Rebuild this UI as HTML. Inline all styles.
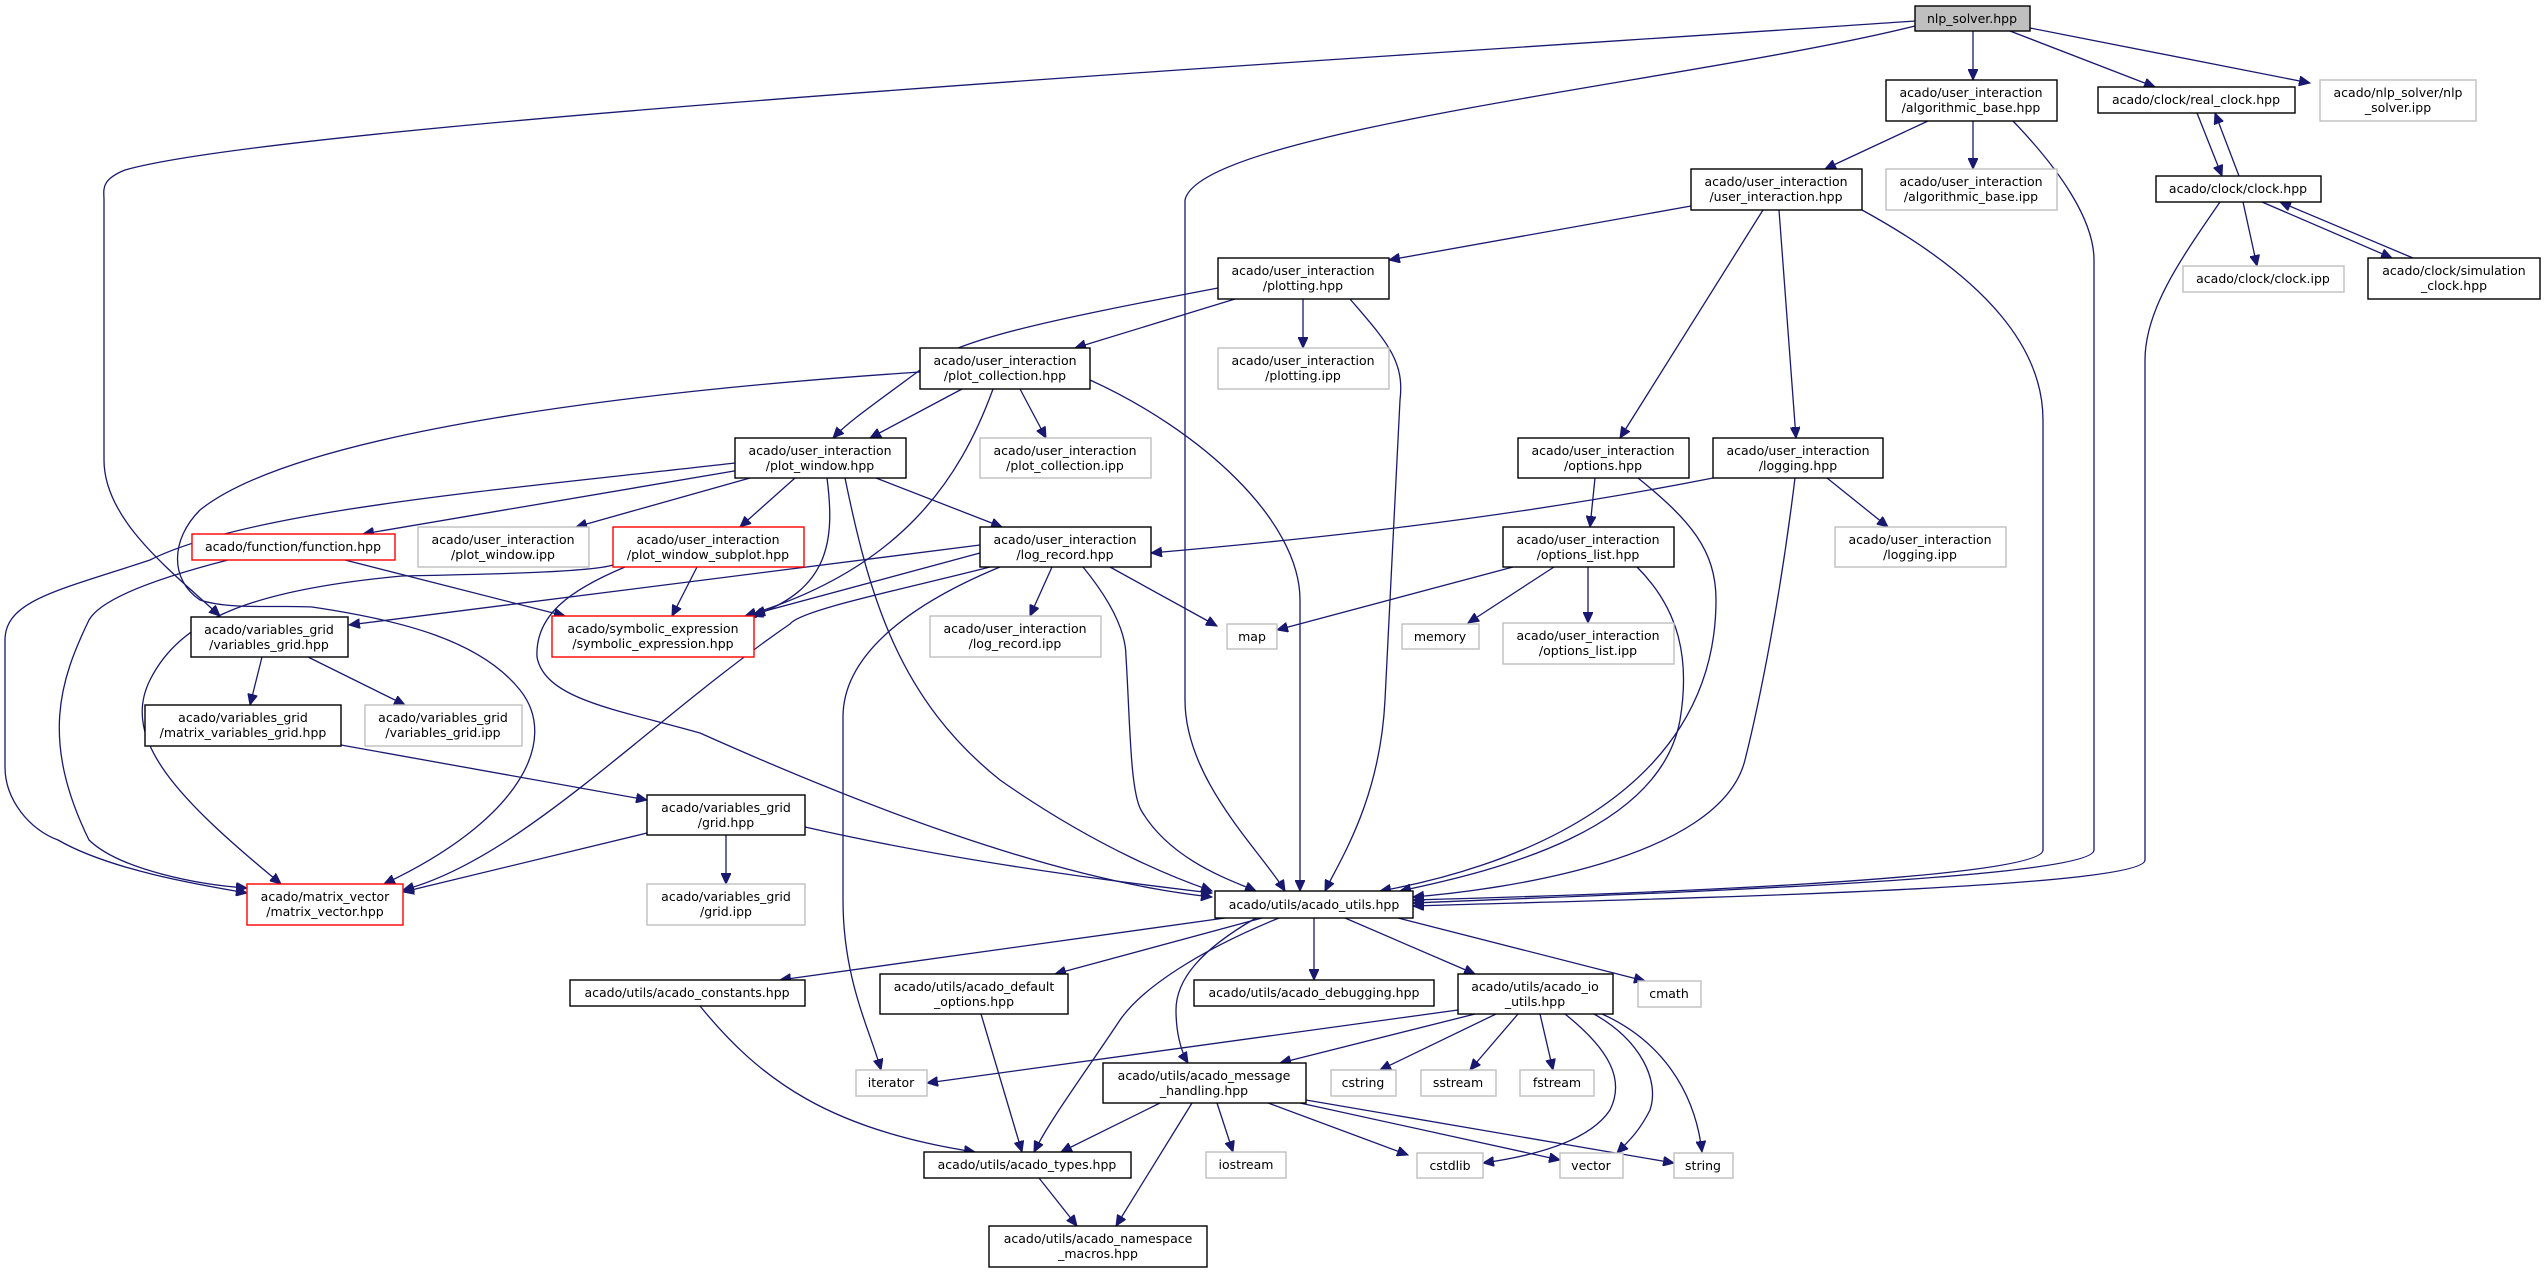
<!DOCTYPE html>
<html><head><meta charset="utf-8"><style>
html,body{margin:0;padding:0;background:#fff}
svg{display:block}
text{font-family:"DejaVu Sans","Liberation Sans",sans-serif;font-size:12.5px;fill:#000;text-anchor:middle}
.e{fill:none;stroke:#191970;stroke-width:1.3}
.b{fill:#fff;stroke:#000;stroke-width:1.4}
.g{fill:#fff;stroke:#bfbfbf;stroke-width:1.4}
.r{fill:#fff;stroke:#ff0000;stroke-width:1.4}
</style></head><body>
<svg width="2546" height="1273" viewBox="0 0 2546 1273" xmlns="http://www.w3.org/2000/svg">
<defs><marker id="a" markerUnits="userSpaceOnUse" markerWidth="12" markerHeight="10" refX="11" refY="5" orient="auto"><path d="M0,0 L11,5 L0,10 z" fill="#191970" stroke="#191970"/></marker></defs>
<g class="e" marker-end="url(#a)">
<!-- nlp_solver -->
<path d="M1915,21 C1500,50 300,120 125,170 C100,180 104,190 104,200 L104,460 C104,520 170,570 220,616"/>
<path d="M1915,26 C1700,80 1200,130 1185,200 L1185,700 C1185,780 1260,850 1285,891"/>
<path d="M1973,31 L1973,80"/>
<path d="M2010,31 L2155,87"/>
<path d="M2030,28 L2310,83"/>
<!-- algorithmic_base -->
<path d="M1928,121 L1825,169"/>
<path d="M1973,121 L1973,169"/>
<path d="M2013,121 C2060,170 2094,220 2094,260 L2094,850 C2094,880 1600,895 1413,903"/>
<!-- clocks -->
<path d="M2197,113 L2222,176"/>
<path d="M2239,176 L2215,113"/>
<path d="M2243,202 L2257,266"/>
<path d="M2262,202 L2392,258"/>
<path d="M2413,258 L2280,202"/>
<path d="M2220,202 C2180,260 2145,310 2145,360 L2145,860 C2145,890 1600,900 1413,906"/>
<!-- user_interaction -->
<path d="M1691,206 L1389,260"/>
<path d="M1763,210 L1620,438"/>
<path d="M1779,210 L1796,438"/>
<path d="M1862,210 C1990,280 2043,350 2043,420 L2043,850 C2043,880 1600,895 1413,900"/>
<!-- plotting -->
<path d="M1235,299 L1075,348"/>
<path d="M1303,299 L1303,348"/>
<path d="M1218,288 C1050,320 950,340 920,370 C880,400 850,420 833,438"/>
<path d="M1350,299 C1385,340 1405,360 1400,400 L1385,700 C1380,800 1340,860 1325,891"/>
<!-- plot_collection -->
<path d="M962,389 L870,438"/>
<path d="M1020,389 L1046,438"/>
<path d="M993,389 C960,480 900,570 745,616"/>
<path d="M920,372 C650,390 300,430 200,510 C170,540 170,580 200,600 C230,610 280,605 312,607 C400,620 480,640 520,690 C560,740 520,820 384,884"/>
<path d="M1090,380 C1200,430 1300,520 1300,600 L1300,891"/>
<!-- plot_window -->
<path d="M735,463 C500,490 250,510 150,560 C60,590 5,600 5,640 L5,767 C5,800 30,830 58,840 C110,870 200,885 247,893"/>
<path d="M740,470 L363,534"/>
<path d="M750,478 L576,527"/>
<path d="M795,478 L740,527"/>
<path d="M827,478 C835,540 830,590 752,616"/>
<path d="M845,478 C870,600 900,700 1000,780 C1100,850 1180,880 1212,891"/>
<path d="M876,478 L1002,527"/>
<!-- function -->
<path d="M345,560 L565,616"/>
<path d="M228,560 C150,580 100,600 89,620 C60,680 40,740 89,840 C120,870 200,885 247,888"/>
<!-- subplot -->
<path d="M697,567 L672,616"/>
<path d="M613,565 C590,572 500,574 402,576 C250,590 180,620 150,680 C120,740 179,800 281,884"/>
<path d="M625,567 C570,590 535,615 537,657 C545,700 620,710 700,733 C850,800 1050,880 1212,897"/>
<!-- log_record -->
<path d="M980,545 L349,625"/>
<path d="M980,553 L754,614"/>
<path d="M990,567 C900,590 800,610 790,624 C650,720 520,860 403,890"/>
<path d="M1052,567 L1030,616"/>
<path d="M1110,567 L1217,626"/>
<path d="M1000,567 C920,600 843,650 843,717 L843,900 C843,980 870,1030 881,1070"/>
<path d="M1083,567 C1110,600 1126,630 1126,657 C1130,720 1130,790 1141,810 C1170,860 1230,880 1256,891"/>
<!-- options -->
<path d="M1595,478 L1590,527"/>
<path d="M1638,478 C1690,520 1716,550 1716,600 C1716,800 1500,870 1380,891"/>
<!-- logging -->
<path d="M1713,478 C1500,520 1300,540 1151,553"/>
<path d="M1827,478 L1888,527"/>
<path d="M1795,478 C1780,600 1760,700 1745,760 C1720,860 1500,890 1413,897"/>
<!-- options_list -->
<path d="M1513,567 L1277,630"/>
<path d="M1554,567 L1468,623"/>
<path d="M1588,567 L1588,623"/>
<path d="M1637,567 C1680,610 1690,660 1680,720 C1660,830 1500,870 1400,891"/>
<!-- variables_grid -->
<path d="M262,657 L250,705"/>
<path d="M308,657 L405,705"/>
<path d="M341,745 L647,800"/>
<!-- grid -->
<path d="M647,833 L403,892"/>
<path d="M726,835 L726,884"/>
<path d="M805,827 C950,860 1100,880 1212,893"/>
<!-- acado_utils -->
<path d="M1225,918 L780,980"/>
<path d="M1262,918 L1055,974"/>
<path d="M1314,918 L1314,980"/>
<path d="M1345,918 L1475,974"/>
<path d="M1398,918 L1645,981"/>
<path d="M1256,918 C1200,950 1176,980 1176,1010 C1176,1030 1180,1050 1188,1063"/>
<path d="M1279,918 C1200,950 1142,988 1120,1020 C1080,1080 1050,1120 1034,1152"/>
<path d="M700,1006 C760,1080 830,1130 975,1152"/>
<path d="M981,1014 L1022,1152"/>
<!-- io_utils -->
<path d="M1458,1010 L927,1083"/>
<path d="M1475,1014 L1280,1063"/>
<path d="M1496,1014 L1380,1070"/>
<path d="M1518,1014 L1470,1070"/>
<path d="M1540,1014 L1553,1070"/>
<path d="M1565,1014 C1610,1050 1625,1080 1610,1110 C1590,1140 1540,1155 1483,1163"/>
<path d="M1594,1014 C1640,1040 1660,1080 1650,1110 C1640,1130 1630,1140 1617,1153"/>
<path d="M1602,1014 C1660,1040 1695,1090 1702,1152"/>
<!-- message_handling -->
<path d="M1160,1103 L1061,1152"/>
<path d="M1192,1103 L1116,1226"/>
<path d="M1217,1103 L1233,1152"/>
<path d="M1268,1103 L1408,1155"/>
<path d="M1300,1103 L1560,1160"/>
<path d="M1306,1100 L1674,1163"/>
<path d="M1039,1178 L1077,1226"/>
</g>
<!-- nodes -->
<rect x="1915" y="6" width="115" height="25" fill="#bfbfbf" stroke="#000" stroke-width="1.4"/><text x="1972" y="23">nlp_solver.hpp</text>
<rect class="b" x="1886" y="80" width="171" height="41"/><text x="1971" y="97">acado/user_interaction</text><text x="1971" y="112">/algorithmic_base.hpp</text>
<rect class="b" x="2098" y="87" width="197" height="26"/><text x="2196" y="104">acado/clock/real_clock.hpp</text>
<rect class="g" x="2320" y="80" width="156" height="41"/><text x="2398" y="97">acado/nlp_solver/nlp</text><text x="2398" y="112">_solver.ipp</text>
<rect class="b" x="1691" y="169" width="171" height="41"/><text x="1776" y="186">acado/user_interaction</text><text x="1776" y="201">/user_interaction.hpp</text>
<rect class="g" x="1886" y="169" width="171" height="41"/><text x="1971" y="186">acado/user_interaction</text><text x="1971" y="201">/algorithmic_base.ipp</text>
<rect class="b" x="2156" y="176" width="165" height="26"/><text x="2238" y="193">acado/clock/clock.hpp</text>
<rect class="g" x="2183" y="266" width="161" height="26"/><text x="2263" y="283">acado/clock/clock.ipp</text>
<rect class="b" x="2368" y="258" width="172" height="41"/><text x="2454" y="275">acado/clock/simulation</text><text x="2454" y="290">_clock.hpp</text>
<rect class="b" x="1218" y="258" width="171" height="41"/><text x="1303" y="275">acado/user_interaction</text><text x="1303" y="290">/plotting.hpp</text>
<rect class="g" x="1218" y="348" width="171" height="41"/><text x="1303" y="365">acado/user_interaction</text><text x="1303" y="380">/plotting.ipp</text>
<rect class="b" x="920" y="348" width="170" height="41"/><text x="1005" y="365">acado/user_interaction</text><text x="1005" y="380">/plot_collection.hpp</text>
<rect class="b" x="735" y="438" width="171" height="40"/><text x="820" y="455">acado/user_interaction</text><text x="820" y="470">/plot_window.hpp</text>
<rect class="g" x="980" y="438" width="171" height="40"/><text x="1065" y="455">acado/user_interaction</text><text x="1065" y="470">/plot_collection.ipp</text>
<rect class="b" x="1518" y="438" width="171" height="40"/><text x="1603" y="455">acado/user_interaction</text><text x="1603" y="470">/options.hpp</text>
<rect class="b" x="1713" y="438" width="170" height="40"/><text x="1798" y="455">acado/user_interaction</text><text x="1798" y="470">/logging.hpp</text>
<rect class="r" x="192" y="534" width="203" height="26"/><text x="293" y="551">acado/function/function.hpp</text>
<rect class="g" x="418" y="527" width="171" height="40"/><text x="503" y="544">acado/user_interaction</text><text x="503" y="559">/plot_window.ipp</text>
<rect class="r" x="613" y="527" width="191" height="40"/><text x="708" y="544">acado/user_interaction</text><text x="708" y="559">/plot_window_subplot.hpp</text>
<rect class="b" x="980" y="527" width="171" height="40"/><text x="1065" y="544">acado/user_interaction</text><text x="1065" y="559">/log_record.hpp</text>
<rect class="b" x="1503" y="527" width="171" height="40"/><text x="1588" y="544">acado/user_interaction</text><text x="1588" y="559">/options_list.hpp</text>
<rect class="g" x="1835" y="527" width="171" height="40"/><text x="1920" y="544">acado/user_interaction</text><text x="1920" y="559">/logging.ipp</text>
<rect class="b" x="191" y="617" width="157" height="40"/><text x="269" y="634">acado/variables_grid</text><text x="269" y="649">/variables_grid.hpp</text>
<rect class="r" x="552" y="616" width="202" height="41"/><text x="653" y="633">acado/symbolic_expression</text><text x="653" y="648">/symbolic_expression.hpp</text>
<rect class="g" x="930" y="616" width="171" height="41"/><text x="1015" y="633">acado/user_interaction</text><text x="1015" y="648">/log_record.ipp</text>
<rect class="g" x="1227" y="624" width="50" height="25"/><text x="1252" y="641">map</text>
<rect class="g" x="1402" y="624" width="77" height="25"/><text x="1440" y="641">memory</text>
<rect class="g" x="1503" y="623" width="171" height="41"/><text x="1588" y="640">acado/user_interaction</text><text x="1588" y="655">/options_list.ipp</text>
<rect class="b" x="145" y="705" width="196" height="41"/><text x="243" y="722">acado/variables_grid</text><text x="243" y="737">/matrix_variables_grid.hpp</text>
<rect class="g" x="365" y="705" width="157" height="41"/><text x="443" y="722">acado/variables_grid</text><text x="443" y="737">/variables_grid.ipp</text>
<rect class="b" x="647" y="795" width="158" height="40"/><text x="726" y="812">acado/variables_grid</text><text x="726" y="827">/grid.hpp</text>
<rect class="r" x="247" y="884" width="156" height="41"/><text x="325" y="901">acado/matrix_vector</text><text x="325" y="916">/matrix_vector.hpp</text>
<rect class="g" x="647" y="884" width="158" height="41"/><text x="726" y="901">acado/variables_grid</text><text x="726" y="916">/grid.ipp</text>
<rect class="b" x="1215" y="891" width="198" height="27"/><text x="1314" y="909">acado/utils/acado_utils.hpp</text>
<rect class="b" x="570" y="980" width="235" height="26"/><text x="687" y="997">acado/utils/acado_constants.hpp</text>
<rect class="b" x="880" y="974" width="188" height="40"/><text x="974" y="991">acado/utils/acado_default</text><text x="974" y="1006">_options.hpp</text>
<rect class="b" x="1194" y="980" width="240" height="26"/><text x="1314" y="997">acado/utils/acado_debugging.hpp</text>
<rect class="b" x="1458" y="974" width="155" height="40"/><text x="1535" y="991">acado/utils/acado_io</text><text x="1535" y="1006">_utils.hpp</text>
<rect class="g" x="1638" y="981" width="63" height="26"/><text x="1669" y="998">cmath</text>
<rect class="g" x="856" y="1070" width="71" height="26"/><text x="891" y="1087">iterator</text>
<rect class="b" x="1103" y="1063" width="203" height="40"/><text x="1204" y="1080">acado/utils/acado_message</text><text x="1204" y="1095">_handling.hpp</text>
<rect class="g" x="1331" y="1070" width="65" height="26"/><text x="1363" y="1087">cstring</text>
<rect class="g" x="1421" y="1070" width="75" height="26"/><text x="1458" y="1087">sstream</text>
<rect class="g" x="1520" y="1070" width="74" height="26"/><text x="1557" y="1087">fstream</text>
<rect class="b" x="924" y="1152" width="207" height="26"/><text x="1027" y="1169">acado/utils/acado_types.hpp</text>
<rect class="g" x="1206" y="1152" width="80" height="26"/><text x="1246" y="1169">iostream</text>
<rect class="g" x="1417" y="1153" width="66" height="25"/><text x="1450" y="1170">cstdlib</text>
<rect class="g" x="1560" y="1153" width="63" height="25"/><text x="1591" y="1170">vector</text>
<rect class="g" x="1674" y="1153" width="59" height="25"/><text x="1703" y="1170">string</text>
<rect class="b" x="989" y="1226" width="218" height="41"/><text x="1098" y="1243">acado/utils/acado_namespace</text><text x="1098" y="1258">_macros.hpp</text>
</svg>
</body></html>
